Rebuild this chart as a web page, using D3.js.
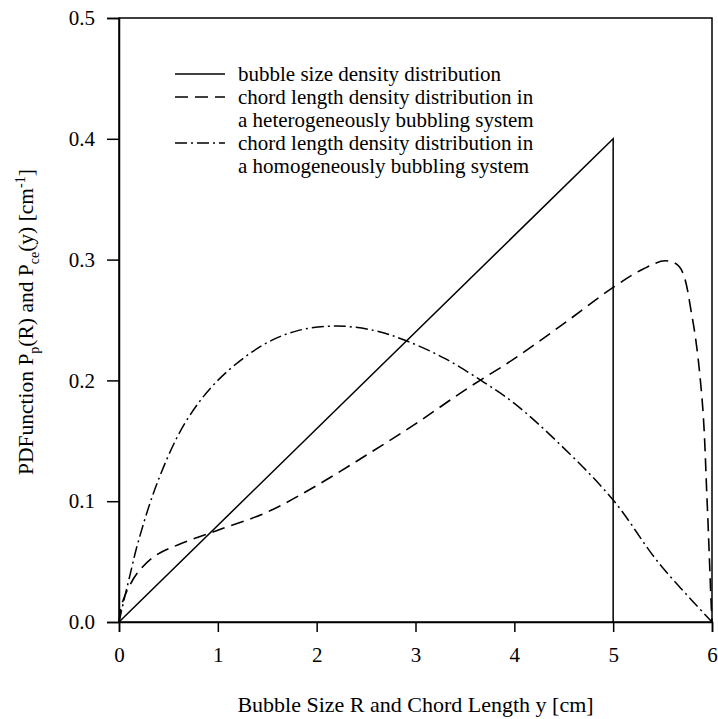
<!DOCTYPE html>
<html>
<head>
<meta charset="utf-8">
<script src="https://cdn.jsdelivr.net/npm/d3@7"></script>
<style>
  body { margin: 0; background: #fff; }
  text { font-family: "Liberation Serif", "Times New Roman", serif; fill: #000; }
</style>
</head>
<body>
<div id="chart"></div>
<script>
// values
const xTicks = [0, 1, 2, 3, 4, 5, 6];
const yTicks = [0, 0.1, 0.2, 0.3, 0.4, 0.5];

const bubbleX = [0, 5, 5];
const bubbleY = [0, 0.4, 0];

const heteroX = [0, 0.03, 0.1, 0.2, 0.37, 0.6, 1.0, 1.5, 2.0, 2.5, 3.0, 3.5, 4.0, 4.5, 5.0, 5.3, 5.53, 5.67, 5.8, 5.9, 5.95, 5.99, 6];
const heteroY = [0, 0.015, 0.029, 0.042, 0.055, 0.064, 0.076, 0.091, 0.113, 0.138, 0.164, 0.192, 0.218, 0.247, 0.277, 0.292, 0.299, 0.294, 0.252, 0.184, 0.101, 0.018, 0];

const homoX = [0, 0.05, 0.1, 0.2, 0.4, 0.67, 1.0, 1.45, 1.8, 2.2, 2.6, 2.9, 3.3, 3.7, 4.0, 4.45, 5.0, 5.46, 6.0];
const homoY = [0, 0.018, 0.035, 0.068, 0.118, 0.165, 0.2, 0.229, 0.241, 0.245, 0.241, 0.233, 0.218, 0.198, 0.181, 0.148, 0.101, 0.049, 0];

const legendLabels = [
  ["bubble size density distribution"],
  ["chord length density distribution in", "a heterogeneously bubbling system"],
  ["chord length density distribution in", "a homogeneously bubbling system"]
];
const legendDash = [null, "13,7", "12,4,2,4"];

const W = 718, H = 719;
const margin = {top: 18, right: 6, bottom: 97, left: 119};
const width = W - margin.left - margin.right;
const height = H - margin.top - margin.bottom;
const serif = '"Liberation Serif", "Times New Roman", serif';

const svg = d3.select("#chart").append("svg")
  .attr("width", W)
  .attr("height", H);

const g = svg.append("g")
  .attr("transform", "translate(" + margin.left + "," + margin.top + ")");

const x = d3.scaleLinear().domain([0, 6]).range([0, width]);
const y = d3.scaleLinear().domain([0, 0.5]).range([height, 0]);

// frame
g.append("rect")
  .attr("x", 0).attr("y", 0)
  .attr("width", width).attr("height", height)
  .attr("fill", "none").attr("stroke", "#000").attr("stroke-width", 1.5);

// axes
const xAxis = g.append("g")
  .attr("transform", "translate(0," + height + ")")
  .call(d3.axisBottom(x).tickValues(xTicks).tickSize(10).tickPadding(15).tickFormat(d3.format("d")));
const yAxis = g.append("g")
  .call(d3.axisLeft(y).tickValues(yTicks).tickSize(12).tickPadding(12).tickFormat(d3.format(".1f")));
[xAxis, yAxis].forEach(a => {
  a.attr("font-family", serif).attr("font-size", 21);
  a.select(".domain").attr("stroke", "#000").attr("stroke-width", 1.5);
  a.selectAll(".tick line").attr("stroke", "#000").attr("stroke-width", 1.5);
  a.selectAll(".tick text").attr("fill", "#000");
});

// curves
const line = d3.line().x(d => x(d[0])).y(d => y(d[1]));
const smooth = d3.line().x(d => x(d[0])).y(d => y(d[1])).curve(d3.curveCatmullRom.alpha(0.5));

g.append("path")
  .datum(d3.zip(bubbleX, bubbleY))
  .attr("d", line)
  .attr("fill", "none").attr("stroke", "#000").attr("stroke-width", 1.5);

g.append("path")
  .datum(d3.zip(heteroX, heteroY))
  .attr("d", smooth)
  .attr("fill", "none").attr("stroke", "#000").attr("stroke-width", 1.6)
  .attr("stroke-dasharray", legendDash[1]);

g.append("path")
  .datum(d3.zip(homoX, homoY))
  .attr("d", smooth)
  .attr("fill", "none").attr("stroke", "#000").attr("stroke-width", 1.5)
  .attr("stroke-dasharray", legendDash[2]);

// legend
const leg = svg.append("g").attr("transform", "translate(175,74)");
let row = 0;
legendLabels.forEach((lines, i) => {
  const yy = row * 23;
  const l = leg.append("line")
    .attr("x1", 0).attr("x2", 50).attr("y1", yy).attr("y2", yy)
    .attr("stroke", "#000").attr("stroke-width", 1.5);
  if (legendDash[i]) l.attr("stroke-dasharray", legendDash[i]);
  lines.forEach((t, k) => {
    leg.append("text")
      .attr("x", 63).attr("y", (row + k) * 23 + 7)
      .style("font-size", "21px")
      .text(t);
  });
  row += lines.length;
});

// axis titles
svg.append("text")
  .attr("x", margin.left + width / 2).attr("y", 712)
  .attr("text-anchor", "middle")
  .style("font-size", "22px")
  .text("Bubble Size R and Chord Length y [cm]");

const yt = svg.append("text")
  .attr("transform", "translate(33," + (margin.top + height / 2 + 2) + ") rotate(-90)")
  .attr("text-anchor", "middle")
  .style("font-size", "21.5px");
yt.append("tspan").text("PDFunction P");
yt.append("tspan").attr("dy", 6).style("font-size", "14px").text("p");
yt.append("tspan").attr("dy", -6).text("(R) and P");
yt.append("tspan").attr("dy", 6).style("font-size", "14px").text("ce");
yt.append("tspan").attr("dy", -6).text("(y) [cm");
yt.append("tspan").attr("dy", -8).style("font-size", "14px").text("-1");
yt.append("tspan").attr("dy", 8).text("]");
</script>
</body>
</html>
